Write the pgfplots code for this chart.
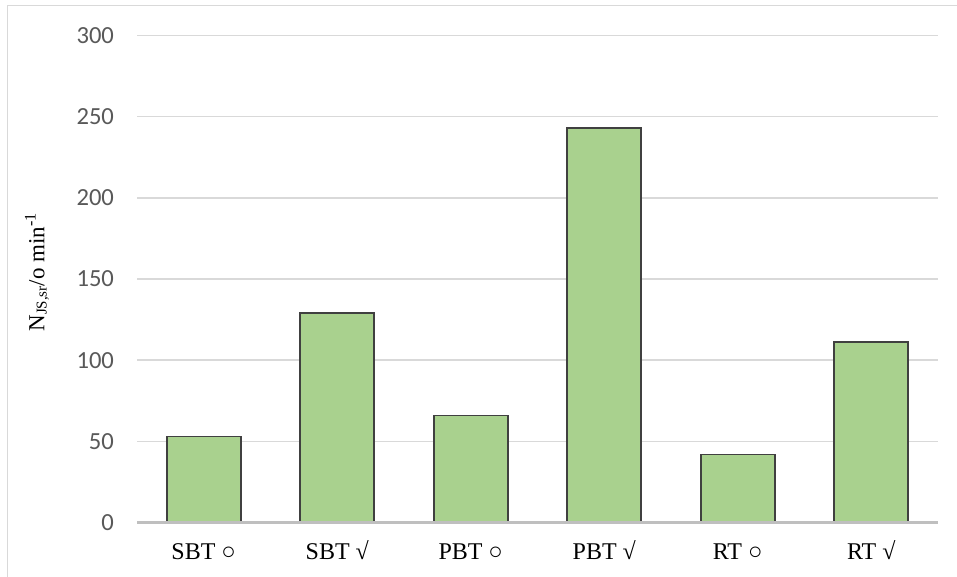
\documentclass[border=0pt]{standalone}
\usepackage{fontspec}
\setmainfont{Liberation Serif}
\newfontfamily\calibri{Carlito}
\usepackage{pgfplots}
\pgfplotsset{compat=1.18}
\definecolor{barfill}{HTML}{A9D18E}
\definecolor{bardraw}{HTML}{404040}
\definecolor{gridc}{HTML}{D9D9D9}
\definecolor{basec}{HTML}{BFBFBF}
\definecolor{tickc}{HTML}{595959}
\begin{document}
\begin{tikzpicture}
\useasboundingbox (0pt,0pt) rectangle (478.5pt,288.5pt);
\draw[gridc, line width=0.75pt] (3.65pt,0pt) -- (3.65pt,285.65pt) -- (478.5pt,285.65pt);
\begin{axis}[
  at={(68.5pt,27.2pt)}, anchor=south west,
  scale only axis, width=400.5pt, height=243.55pt,
  xmin=-0.5, xmax=5.5, ymin=0, ymax=300,
  xtick={0,1,2,3,4,5},
  xticklabels={SBT ○, SBT √, PBT ○, PBT √, RT ○, RT √},
  ytick={0,50,100,150,200,250,300},
  major tick length=0pt,
  axis line style={draw=none},
  ymajorgrids, grid style={gridc, line width=0.75pt},
  /pgf/number format/assume math mode=true,
  yticklabel style={font=\calibri\fontsize{12.3}{14}\selectfont, text=tickc, anchor=east, xshift=-8pt},
  xticklabel style={font=\fontsize{12}{14}\selectfont, text=black, anchor=north, yshift=-7pt, text height=8pt, text depth=2pt},
  clip=false,
]
\addplot[ybar, bar width=37pt, fill=barfill, draw=bardraw, line width=0.9pt]
  coordinates {(0,53) (1,129) (2,66) (3,243) (4,42) (5,111)};
\draw[basec, line width=1.5pt] (axis cs:-0.5,0) -- (axis cs:5.5,0);
\end{axis}
\node[rotate=90, font=\fontsize{11.5}{14}\selectfont] at (18.5pt,152.5pt) {N{\fontsize{7.5}{9}\selectfont\raisebox{-0.35ex}{JS,sr}}/o min\textsuperscript{-1}};
\end{tikzpicture}
\end{document}
